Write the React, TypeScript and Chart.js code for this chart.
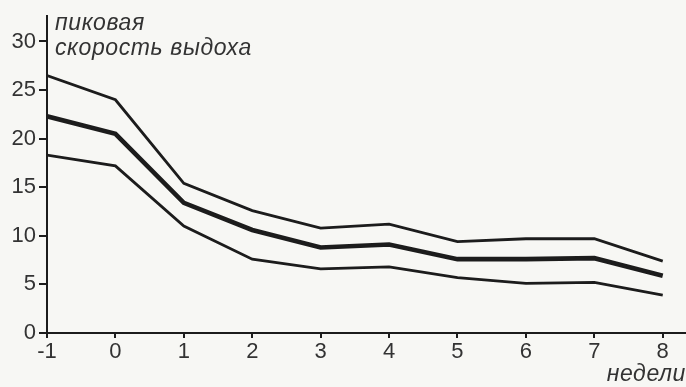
import React, { useEffect, useRef } from "react";
import { Chart, registerables } from "chart.js";

Chart.register(...registerables);

const weeks = [-1, 0, 1, 2, 3, 4, 5, 6, 7, 8];
const upperLine = [26.5, 24.0, 15.4, 12.6, 10.8, 11.2, 9.4, 9.7, 9.7, 7.4];
const meanLine = [22.3, 20.5, 13.4, 10.6, 8.8, 9.1, 7.6, 7.6, 7.7, 5.9];
const lowerLine = [18.3, 17.2, 11.0, 7.6, 6.6, 6.8, 5.7, 5.1, 5.2, 3.9];
const yTicks = [0, 5, 10, 15, 20, 25, 30];
const yTitleLines = ["пиковая", "скорость выдоха"];
const xTitle = "недели";

const FONT = '"Liberation Sans", Arial, sans-serif';
const INK = "#1c1c1c";
const TEXT = "#333333";
const BG = "#f7f7f4";

const labelsPlugin = {
  id: "axisTitles",
  afterDraw(chart: any) {
    const ctx = chart.ctx;
    ctx.save();
    ctx.fillStyle = TEXT;
    ctx.font = `italic 23px ${FONT}`;
    (ctx as any).letterSpacing = "0.6px";
    ctx.textAlign = "left";
    ctx.textBaseline = "alphabetic";
    const left = chart.chartArea.left + 8;
    ctx.fillText(yTitleLines[0], left, 30);
    ctx.fillText(yTitleLines[1], left, 55);
    ctx.textAlign = "right";
    ctx.fillText(xTitle, 686, 381);
    ctx.restore();
  },
};

const bgPlugin = {
  id: "bg",
  beforeDraw(chart: any) {
    const ctx = chart.ctx;
    ctx.save();
    ctx.fillStyle = BG;
    ctx.fillRect(0, 0, chart.width, chart.height);
    ctx.restore();
  },
};

export default function App() {
  const ref = useRef<HTMLCanvasElement>(null);
  useEffect(() => {
    if (!ref.current) return;
    const mk = (vals: number[], w: number) => ({
      data: weeks.map((x, i) => ({ x, y: vals[i] })),
      borderColor: INK,
      borderWidth: w,
      pointRadius: 0,
      tension: 0,
      fill: false,
      borderJoinStyle: "miter" as const,
    });
    const chart = new Chart(ref.current, {
      type: "line",
      data: {
        datasets: [mk(upperLine, 2.8), mk(meanLine, 4.6), mk(lowerLine, 2.8)],
      },
      options: {
        animation: false,
        responsive: false,
        maintainAspectRatio: false,
        layout: { padding: { top: 13, right: 0, left: 0, bottom: 0 } },
        plugins: { legend: { display: false }, tooltip: { enabled: false }, title: { display: false } },
        scales: {
          x: {
            type: "linear",
            min: -1,
            max: 8.34,
            afterBuildTicks: (axis: any) => {
              axis.ticks = weeks.map((v) => ({ value: v }));
            },
            afterFit: (scale: any) => {
              scale.height = 54;
            },
            ticks: {
              color: TEXT,
              font: { family: FONT, size: 22 },
              padding: 1,
              maxRotation: 0,
              autoSkip: false,
              callback: (v: any) => String(v),
            },
            grid: { drawOnChartArea: false, drawTicks: true, tickLength: 5, color: INK, lineWidth: 2 },
            border: { display: true, color: INK, width: 2 },
          },
          y: {
            type: "linear",
            min: 0,
            max: 32.6,
            afterBuildTicks: (axis: any) => {
              axis.ticks = yTicks.map((v) => ({ value: v }));
            },
            afterFit: (scale: any) => {
              scale.width = 47;
            },
            ticks: {
              color: TEXT,
              font: { family: FONT, size: 22 },
              padding: 3,
              autoSkip: false,
              callback: (v: any) => String(v),
            },
            grid: { drawOnChartArea: false, drawTicks: true, tickLength: 8, color: INK, lineWidth: 2 },
            border: { display: true, color: INK, width: 2 },
          },
        },
      },
      plugins: [bgPlugin, labelsPlugin],
    });
    return () => chart.destroy();
  }, []);
  return (
    <div style={{ position: "fixed", left: 0, top: 0, width: 686, height: 387, background: BG }}>
      <canvas ref={ref} width={686} height={387} style={{ display: "block" }} />
    </div>
  );
}
